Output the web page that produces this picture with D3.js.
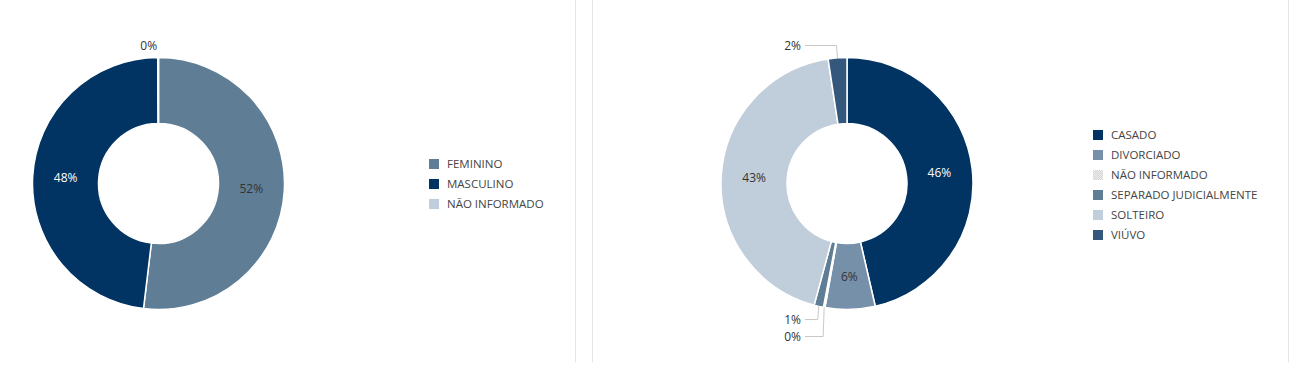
<!DOCTYPE html>
<html>
<head>
<meta charset="utf-8">
<script src="https://cdn.jsdelivr.net/npm/d3@7"></script>
<style>
    html, body { margin: 0; padding: 0; background: #fff; }
    svg { display: block; font-family: "Open Sans", "Noto Sans", sans-serif; }
</style>
</head>
<body>
<div id="graph"></div>
<script>
const width = 1304,
    height = 365

// sexo
const sexoCategorias = ["FEMININO", "MASCULINO", "NÃO INFORMADO"]
const sexoValores = [51.9, 48.0, 0.1]
const sexoCores = ["#5f7e95", "#013363", "#c0cddb"]

// estado civil
const civilCategorias = ["CASADO", "DIVORCIADO", "NÃO INFORMADO", "SEPARADO JUDICIALMENTE", "SOLTEIRO", "VIÚVO"]
const civilValores = [46.4, 6.4, 0.2, 1.2, 43.4, 2.4]
const civilCores = ["#013363", "#7690aa", "url(#hatch)", "#5f7e95", "#c0cddb", "#34587c"]

var svg = d3.select("#graph")
    .append("svg")
    .attr("width", width)
    .attr("height", height)

// checker pattern for "nao informado"
var pat = svg.append("defs").append("pattern")
    .attr("id", "hatch")
    .attr("width", 2).attr("height", 2)
    .attr("patternUnits", "userSpaceOnUse")
pat.append("rect").attr("width", 2).attr("height", 2).attr("fill", "#eeeeee")
pat.append("rect").attr("width", 1).attr("height", 1).attr("fill", "#d4d4d4")
pat.append("rect").attr("x", 1).attr("y", 1).attr("width", 1).attr("height", 1).attr("fill", "#d4d4d4")

// panel borders
svg.selectAll("line.sep")
    .data([575.5, 592.5, 1288.5])
    .enter()
    .append("line")
    .attr("class", "sep")
    .attr("x1", d => d).attr("x2", d => d)
    .attr("y1", 0).attr("y2", 362)
    .attr("stroke", "#e6e6e6")

var inner = 60,
    outer = 126

var arc = d3.arc().innerRadius(inner).outerRadius(outer)
var pie = d3.pie().sort(null).value(d => d)

function donut(opts) {
    var total = d3.sum(opts.values)
    var g = svg.append("g").attr("transform", `translate(${opts.cx},${opts.cy})`)
    var arcs = pie(opts.values)

    g.selectAll("path")
        .data(arcs)
        .enter()
        .append("path")
        .attr("d", arc)
        .attr("fill", (d, i) => opts.colors[i])
        .attr("stroke", "#fff")
        .attr("stroke-width", 1.5)
        .attr("stroke-linejoin", "round")

    var pct = d => Math.round(d.value / total * 100) + "%"

    // big slices: label in the ring
    g.selectAll("text.in")
        .data(arcs.filter(d => d.value / total >= 0.03))
        .enter()
        .append("text")
        .attr("class", "in")
        .attr("transform", d => `translate(${arc.centroid(d)})`)
        .attr("text-anchor", "middle")
        .attr("dy", "0.35em")
        .attr("font-size", 12)
        .attr("fill", d => d.index === opts.dark ? "#fff" : "#333")
        .text(pct)

    // small slices: callout outside
    var small = arcs.filter(d => d.value / total < 0.03)
    var lower = small.filter(d => (d.startAngle + d.endAngle) / 2 > Math.PI / 2 && (d.startAngle + d.endAngle) / 2 < Math.PI * 1.5)
        .sort((a, b) => b.startAngle - a.startAngle)
    var upper = small.filter(d => lower.indexOf(d) < 0)

    function anchor(d) {
        var a = (d.startAngle + d.endAngle) / 2
        return [outer * Math.sin(a), -outer * Math.cos(a)]
    }

    var labels = upper.map(d => ({ d: d, y: -outer - 12 }))
        .concat(lower.map((d, i) => ({ d: d, y: outer + 10 + i * 17 })))

    labels.forEach(l => {
        var p = anchor(l.d)
        var tx = opts.calloutX == null ? p[0] - 1 : opts.calloutX
        if (opts.calloutX != null) {
            g.append("polyline")
                .attr("points", [[tx + 4, l.y], [p[0] - 1, l.y], p].join(" "))
                .attr("fill", "none")
                .attr("stroke", "#c8c8c8")
                .attr("stroke-width", 1)
        }
        g.append("text")
            .attr("x", tx)
            .attr("y", l.y)
            .attr("dy", "0.35em")
            .attr("text-anchor", "end")
            .attr("font-size", 12)
            .attr("fill", "#333")
            .text(pct(l.d))
    })

    // legend
    var leg = svg.append("g")
        .attr("transform", `translate(${opts.legendX},${opts.legendY})`)
        .selectAll("g")
        .data(opts.categories)
        .enter()
        .append("g")
        .attr("transform", (d, i) => `translate(0,${i * 20})`)

    leg.append("rect")
        .attr("width", 10)
        .attr("height", 10)
        .attr("fill", (d, i) => opts.colors[i])

    leg.append("text")
        .attr("x", 18)
        .attr("y", 5)
        .attr("dy", "0.35em")
        .attr("font-size", 11.5)
        .attr("fill", "#444")
        .text(d => d)
}

donut({
    cx: 158.5, cy: 183.5,
    values: sexoValores,
    categories: sexoCategorias,
    colors: sexoCores,
    dark: 1,
    calloutX: null,
    legendX: 429, legendY: 159
})

donut({
    cx: 847, cy: 183.5,
    values: civilValores,
    categories: civilCategorias,
    colors: civilCores,
    dark: 0,
    calloutX: 801 - 847,
    legendX: 1093, legendY: 130
})
</script>
</body>
</html>
